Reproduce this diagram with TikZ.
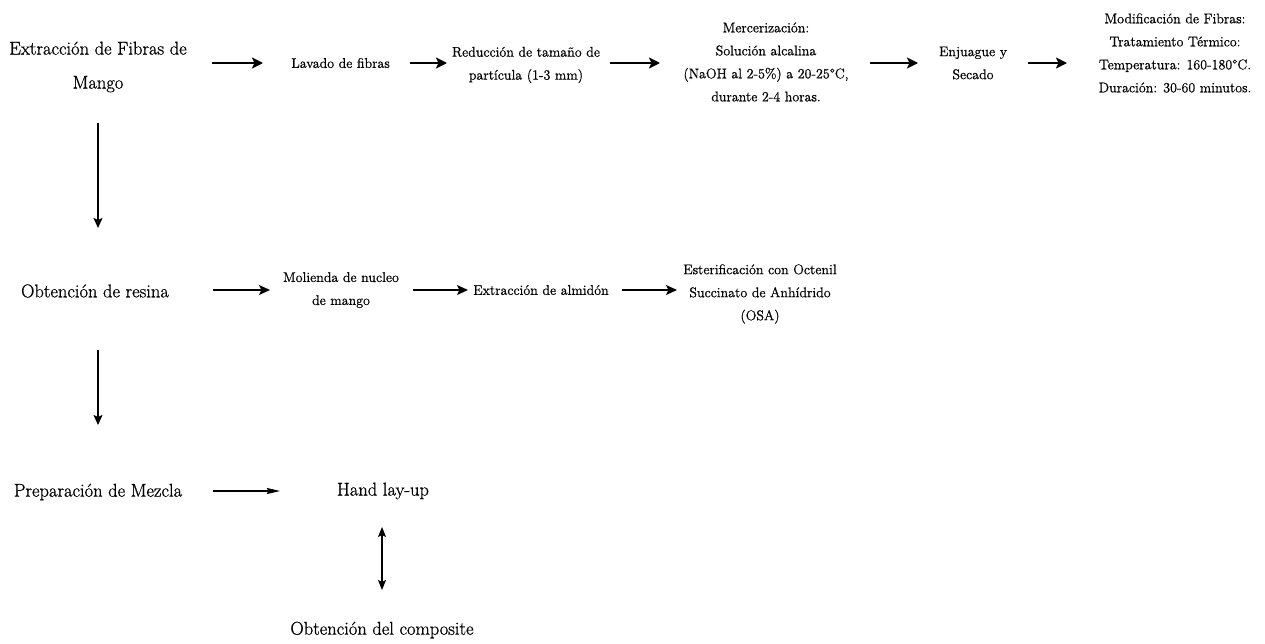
\documentclass[tikz,border=0pt]{standalone}
\usepackage{fontspec}
\setmainfont{Latin Modern Roman}[FakeBold=0.8]
\usetikzlibrary{arrows.meta}
\tikzset{
  big/.style={inner sep=0pt, align=center, font=\fontsize{18.5}{34}\selectfont},
  small/.style={inner sep=0pt, align=center, font=\fontsize{14}{23}\selectfont},
  thickarr/.style={line width=2.4pt, -{Stealth[length=11pt,width=11pt,inset=2.5pt]}},
  midarr/.style={line width=1.3pt, -{Stealth[length=11pt,width=10pt,inset=2.5pt]}},
  thinarr/.style={line width=1.1pt, -{Stealth[length=13pt,width=6pt,inset=1pt]}},
  vertarr/.style={line width=1.6pt, -{Stealth[length=10pt,width=9pt,inset=2pt]}},
  dblarr/.style={line width=1.1pt, {Stealth[length=10pt,width=8pt,inset=2pt]}-{Stealth[length=10pt,width=8pt,inset=2pt]}}
}
\begin{document}
\begin{tikzpicture}[x=1pt,y=-1pt]
\useasboundingbox[fill=white] (0,0) rectangle (1265,643);
% row 1
\node[big]   (ext) at (98,67)   {Extracción de Fibras de\\Mango};
\node[small] (lav) at (340.5,63) {Lavado de fibras};
\node[small] (red) at (526,65)  {Reducción de tamaño de\\partícula (1-3 mm)};
\node[small] (mer) at (766,62)  {Mercerización:\\Solución alcalina\\(NaOH al 2-5\%) a 20-25°C,\\durante 2-4 horas.};
\node[small] (enj) at (973,63)  {Enjuague y\\Secado};
\node[small] (mod) at (1175,53) {Modificación de Fibras:\\Tratamiento Térmico:\\Temperatura: 160-180°C.\\Duración: 30-60 minutos.};
% row 2
\node[big]   (obt) at (95,291)  {Obtención de resina};
\node[small] (mol) at (341,290) {Molienda de nucleo\\de mango};
\node[small] (alm) at (541,290) {Extracción de almidón};
\node[small] (est) at (760,294) {Esterificación con Octenil\\Succinato de Anhídrido\\(OSA)};
% row 3
\node[big]   (prep) at (98,492) {Preparación de Mezcla};
\node[big]   (hand) at (383,491) {Hand lay-up};
\node[big]   (comp) at (382,630) {Obtención del composite};
% connectors row 1
\draw[thickarr, shorten <=114pt, shorten >=77.5pt] (lav.center -| ext.center) -- (lav.center);
\draw[thickarr, shorten <=69.5pt, shorten >=79pt] (lav.center) -- (lav.center -| red.center);
\draw[thickarr, shorten <=84pt, shorten >=106pt] (lav.center -| red.center) -- (lav.center -| mer.center);
\draw[thickarr, shorten <=104pt, shorten >=55pt] (lav.center -| mer.center) -- (lav.center -| enj.center);
\draw[thickarr, shorten <=55pt, shorten >=108pt] (lav.center -| enj.center) -- (lav.center -| mod.center);
% connectors row 2
\draw[midarr, shorten <=118pt, shorten >=71pt] (mol.center -| obt.center) -- (mol.center);
\draw[midarr, shorten <=72pt, shorten >=73pt] (mol.center) -- (alm.center);
\draw[midarr, shorten <=81pt, shorten >=83pt] (alm.center) -- (alm.center -| est.center);
% row 3
\draw[thinarr, shorten <=115pt, shorten >=103pt] (hand.center -| prep.center) -- (hand.center);
% verticals
\draw[vertarr, shorten <=56pt, shorten >=63pt] (ext.center) -- (obt.center -| ext.center);
\draw[vertarr, shorten <=59pt, shorten >=67pt] (obt.center -| ext.center) -- (prep.center -| ext.center);
\draw[dblarr, shorten <=36pt, shorten >=40pt] (hand.center -| comp.center) -- (comp.center);
\end{tikzpicture}
\end{document}
